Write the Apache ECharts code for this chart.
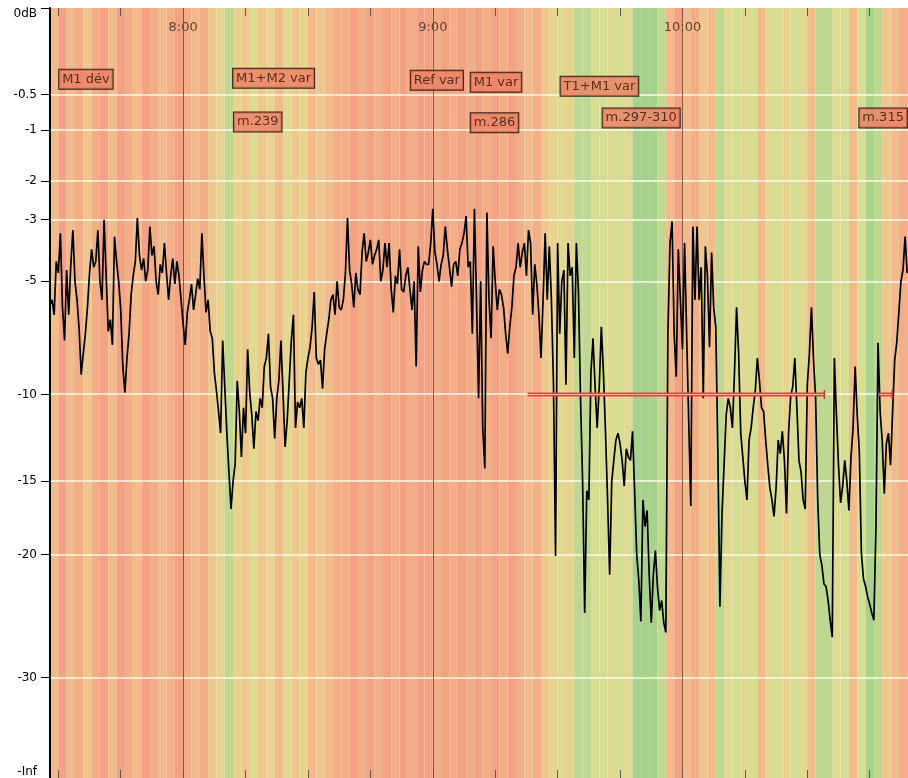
<!DOCTYPE html>
<html>
<head>
<meta charset="utf-8">
<script src="https://cdn.jsdelivr.net/npm/echarts@6/dist/echarts.min.js"></script>
<style>
  html, body { margin: 0; padding: 0; background: #fff; }
  #levelChart { width: 908px; height: 778px; }
</style>
</head>
<body>
<div id="levelChart"></div>
<script>
// temps en minutes depuis minuit, niveau en dB
const startMinute = 448
const endMinute = 654.2
const stepMinutes = 0.5
const levelDb = [
  -5.9, -5.7, -6.3, -4.3, -4.7, -3.4, -6.0, -7.4, -4.6, -6.3,
  -4.4, -3.3, -5.0, -5.7, -6.9, -9.0, -8.0, -7.1, -6.0, -4.7,
  -3.9, -4.5, -4.3, -3.3, -5.0, -5.7, -3.0, -4.8, -7.0, -6.5,
  -7.6, -3.5, -4.3, -5.0, -6.1, -8.6, -9.9, -8.2, -7.1, -5.5,
  -4.8, -4.3, -2.95, -4.1, -4.6, -4.2, -5.0, -4.6, -3.2, -4.1,
  -3.8, -5.0, -5.5, -4.4, -4.7, -3.7, -4.7, -5.7, -4.8, -4.2,
  -5.1, -4.3, -4.8, -5.7, -6.7, -7.6, -6.2, -5.7, -5.1, -6.1,
  -5.5, -4.9, -5.3, -3.4, -4.8, -6.2, -5.7, -7.0, -7.3, -8.9,
  -9.8, -10.9, -12.1, -7.4, -9.6, -12.1, -14.4, -16.8, -15.0, -13.9,
  -9.3, -10.9, -13.5, -10.7, -12.1, -7.8, -9.9, -11.1, -13.0, -10.9,
  -11.4, -10.2, -10.7, -8.6,
  -8.2, -7.1, -9.6, -10.2, -12.4, -10.2, -9.3, -7.4, -9.9, -12.9,
  -11.4, -9.3, -7.4, -6.3, -11.8, -10.4, -10.7, -10.2, -11.8, -8.9,
  -8.2, -7.7, -6.8, -5.4, -8.2, -8.5, -8.3, -9.7, -7.8, -7.1,
  -6.5, -5.7, -5.5, -6.3, -5.0, -6.0, -6.1, -5.7, -4.7, -2.95,
  -4.6, -5.1, -6.0, -4.7, -5.3, -5.5, -4.0, -3.4, -4.3, -4.0,
  -3.6, -4.4, -4.1, -3.9, -3.6, -5.0, -4.6, -3.7, -4.5, -3.7,
  -5.3, -6.2, -4.8, -5.1, -3.9, -5.3, -5.4, -4.8, -4.5, -5.3,
  -6.1, -5.0, -8.6, -3.8, -5.4, -4.6, -4.3, -4.4, -4.4, -3.7,
  -2.7, -4.0, -4.4, -5.0, -4.4, -4.1, -3.2, -3.9, -4.5, -5.2,
  -4.4, -4.3, -4.8, -3.9, -3.7, -3.4, -2.9, -4.5, -4.3, -7.1,
  -2.7, -5.7, -10.2,
  -5.0, -11.8, -14.2, -2.8, -5.7, -7.3, -3.8, -5.0, -6.1, -5.3,
  -5.5, -6.0, -7.1, -8.0, -6.8, -6.0, -4.8, -4.5, -3.7, -4.5,
  -4.0, -3.7, -4.8, -3.3, -3.7, -6.3, -4.4, -5.1, -6.3, -8.2,
  -5.7, -3.4, -5.7, -3.8, -5.7, -9.5, -20.1, -3.7, -7.1, -5.0,
  -4.6, -9.5, -3.7, -4.8, -4.5, -8.2, -3.7, -5.4, -10.2, -15.0,
  -24.5, -15.6, -16.2, -8.9, -7.3, -9.6, -11.8, -9.6, -6.8, -8.9,
  -12.0, -16.2, -21.5, -15.0, -13.7, -12.5, -12.1, -12.7, -13.7, -15.3,
  -13.0, -13.5, -13.7, -12.0, -15.6, -20.0, -21.9, -25.2, -16.2, -18.0,
  -16.9, -21.5, -25.3, -21.5, -19.7, -22.5, -24.3, -23.5, -25.3, -26.1,
  -7.1, -3.7, -3.05, -7.1, -9.1, -3.9, -5.7, -7.8, -3.7, -7.1,
  -11.4, -16.6, -3.2,
  -5.7, -3.2, -5.7, -4.5, -10.2, -3.8, -4.8, -7.7, -4.0, -6.0,
  -6.8, -13.2, -24.0, -17.1, -14.0, -11.1, -10.2, -10.7, -11.8, -8.9,
  -6.0, -8.0, -12.1, -13.5, -15.0, -16.2, -12.5, -11.8, -10.7, -9.8,
  -8.2, -9.3, -10.7, -10.9, -12.5, -14.0, -15.4, -16.2, -17.3, -15.4,
  -12.5, -13.3, -12.0, -13.7, -17.1, -12.1, -10.1, -9.6, -8.2, -10.7,
  -13.7, -14.4, -16.2, -16.8, -9.5, -8.0, -6.0, -8.3, -10.2, -16.2,
  -20.0, -20.8, -22.2, -22.4, -23.5, -25.1, -26.5, -8.2, -11.1, -14.0,
  -16.4, -15.3, -13.7, -15.0, -16.9, -13.5, -11.8, -8.6, -11.1, -13.2,
  -19.9, -21.8, -22.4, -23.2, -23.8, -24.5, -25.1, -18.0, -7.5, -10.9,
  -12.5, -15.8, -12.7, -12.1, -14.0, -10.9, -8.3, -7.5, -6.2, -5.0,
  -4.6, -3.5, -4.7
]

// bandes de fond : 0 = rouge ... 4 = vert
const stripeStart = 448
const stripeStep = 2
const stripeLevel = [
  1, 0, 1, 0.5, 1.5, 0.5, 0, 1, 0, 0.5,
  1, 0, 0.5, 1, 0.5, 0, 0.5, 1, 0.5, 1.5,
  2, 3.5, 2, 1.5, 2.5, 1.5, 2, 1, 2.5, 1.5,
  2, 1, 1.5, 1, 0.5, 0.5, 0, 0.5, 0, 0.5,
  0, 0.5, 0, 0.5, 0, 0, 0.5, 0, 0.5, 0,
  0.5, 0, 0.5, 0, 0.5, 0, 0.5, 1, 0.5, 1.5,
  2, 2.5, 2, 3.5, 3.5, 3, 3, 2.5, 3, 2.5,
  4, 4, 4, 3.5, 1, 0, 1, 0.5, 1.5, 1,
  3.5, 2.5, 3, 2.5, 3, 1, 2.5, 3, 2, 3,
  2.5, 1, 3.5, 3.5, 2.5, 3, 1, 3, 4, 3.5,
  1.5, 1, 0.5, 0.5
]

const yTickDb = [0, -0.5, -1, -2, -3, -5, -10, -15, -20, -30, -Infinity]
const yTickLabels = ['0dB', '-0.5', '-1', '-2', '-3', '-5', '-10', '-15', '-20', '-30', '-Inf']
const gridDb = [-0.5, -1, -2, -3, -5, -10, -15, -20, -30]
const hourTicks = [480, 540, 600]
const hourLabels = ['8:00', '9:00', '10:00']
const quarterTicks = [450, 465, 480, 495, 510, 525, 540, 555, 570, 585, 600, 615, 630, 645]

const notes = ['M1 dév', 'M1+M2 var', 'm.239', 'Ref var', 'M1 var', 'm.286', 'T1+M1 var', 'm.297-310', 'm.315']
const noteMinute = [450.2, 492.0, 492.2, 534.7, 549.1, 549.1, 570.7, 580.8, 642.5]
const noteDb = [-0.34, -0.33, -0.87, -0.35, -0.37, -0.88, -0.41, -0.81, -0.81]

const loopStart = [562.8, 647.3]
const loopEnd = [634.1, 650.4]
const loopDb = -10
const loopName = '1'

// échelle en racine de -dB, -Inf en bas
const yBottom = 6.3
function yScale(db) {
  if (db === -Infinity) return yBottom
  return Math.sqrt(-db)
}

const curve = levelDb.map((db, i) => [startMinute + i * stepMinutes, yScale(db)])
const stripes = stripeLevel.map((lv, i) => [stripeStart + stripeStep * (i + 0.5), yBottom, lv])

const loopSeries = []
loopStart.forEach((s, k) => {
  const pts = [[s, yScale(loopDb)], [loopEnd[k], yScale(loopDb)]]
  loopSeries.push({
    type: 'line', z: 7, silent: true,
    data: pts,
    symbol: 'none',
    lineStyle: { color: '#D9473F', width: 4 }
  })
  loopSeries.push({
    type: 'line', z: 8, silent: true,
    data: [
      {
        value: pts[0], symbol: 'none',
        label: {
          show: true, position: 'left', distance: 1, formatter: loopName,
          backgroundColor: '#f2f2f2', borderColor: '#9a9a9a', borderWidth: 1,
          padding: [1, 2, 0, 2], fontSize: 10, color: '#333'
        }
      },
      { value: pts[1], symbol: 'rect', symbolSize: [1.5, 9] }
    ],
    itemStyle: { color: '#C83A34' },
    lineStyle: { color: '#F4AFA6', width: 1.2 }
  })
})

const myChart = echarts.init(document.getElementById('levelChart'))
const option = {
  animation: false,
  textStyle: { fontFamily: 'DejaVu Sans' },
  grid: { left: 50, right: 0, top: 8, bottom: 0 },
  visualMap: {
    show: false,
    type: 'continuous',
    seriesIndex: 0,
    dimension: 2,
    min: 0,
    max: 4,
    inRange: { color: ['#F3A383', '#F1BB8B', '#E8D38F', '#D6DE94', '#A8D18E'] }
  },
  xAxis: [
    {
      type: 'value', position: 'top', min: startMinute, max: endMinute, z: 10,
      axisLine: { show: false },
      axisTick: { show: true, inside: true, length: 8, customValues: quarterTicks, lineStyle: { color: '#6b5648' } },
      axisLabel: {
        inside: true, margin: 13, customValues: hourTicks, color: '#5e4436', fontSize: 13,
        formatter: v => { const i = hourTicks.indexOf(v); return i >= 0 ? hourLabels[i] : '' }
      },
      splitLine: { show: false }
    },
    {
      type: 'value', position: 'bottom', min: startMinute, max: endMinute, z: 10,
      axisLine: { show: false },
      axisTick: { show: true, inside: true, length: 8, customValues: quarterTicks, lineStyle: { color: '#6b5648' } },
      axisLabel: { show: false },
      splitLine: { show: false }
    }
  ],
  yAxis: {
    type: 'value', inverse: true, min: 0, max: yBottom, z: 10,
    axisLine: { show: true, lineStyle: { color: '#000', width: 2 } },
    axisTick: { show: true, length: 9, customValues: yTickDb.map(yScale), lineStyle: { color: '#000' } },
    axisLabel: {
      customValues: yTickDb.map(yScale), color: '#000', fontSize: 12, margin: 13,
      verticalAlignMinLabel: 'top', verticalAlignMaxLabel: 'bottom',
      formatter: function (value) {
        const i = yTickDb.findIndex(d => Math.abs(yScale(d) - value) < 1e-6)
        return i >= 0 ? yTickLabels[i] : ''
      }
    },
    splitLine: { show: false }
  },
  series: [
    {
      type: 'bar', z: 1, silent: true,
      data: stripes,
      barWidth: '101%',
      barGap: '-100%'
    },
    {
      type: 'scatter', z: 3, silent: true,
      data: [],
      markLine: {
        silent: true, symbol: ['none', 'none'], animation: false,
        label: { show: false },
        data: gridDb.map(db => ({ yAxis: yScale(db), lineStyle: { color: 'rgba(255,252,238,0.95)', width: 1.5, type: 'solid' } }))
          .concat(hourTicks.map(h => ({ xAxis: h, lineStyle: { color: 'rgba(95,55,35,0.75)', width: 1, type: 'solid' } })))
      }
    },
    {
      type: 'line', z: 5, silent: true,
      data: curve,
      symbol: 'none',
      lineStyle: { color: '#000', width: 1.7 }
    },
    ...loopSeries,
    {
      type: 'scatter', z: 9, silent: true,
      symbol: 'rect', symbolSize: 0,
      data: notes.map((n, i) => ({ name: n, value: [noteMinute[i], yScale(noteDb[i])] })),
      label: {
        show: true, position: 'right', distance: 0, formatter: '{b}',
        backgroundColor: '#EE7E60', borderColor: '#000', borderWidth: 1,
        padding: [3, 3, 3, 3], color: '#2a1810', fontSize: 13
      }
    }
  ]
};
myChart.setOption(option);
</script>
</body>
</html>
